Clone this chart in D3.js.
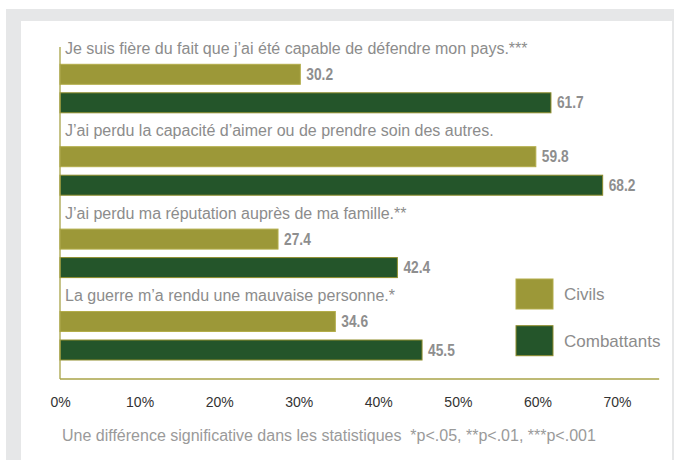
<!DOCTYPE html>
<html>
<head>
<meta charset="utf-8">
<script src="https://cdn.jsdelivr.net/npm/d3@7"></script>
<style>
  body { margin: 0; background: #fff; }
  svg { display: block; font-family: "Liberation Sans", Arial, sans-serif; }
</style>
</head>
<body>
<svg id="chart" width="674" height="460"></svg>
<script>
// data
var categories = [
  "Je suis fière du fait que j’ai été capable de défendre mon pays.***",
  "J’ai perdu la capacité d’aimer ou de prendre soin des autres.",
  "J’ai perdu ma réputation auprès de ma famille.**",
  "La guerre m’a rendu une mauvaise personne.*"
];
var civils = [30.2, 59.8, 27.4, 34.6];
var combattants = [61.7, 68.2, 42.4, 45.5];
var seriesNames = ["Civils", "Combattants"];
var tickValues = [0, 10, 20, 30, 40, 50, 60, 70];
var footnote = "Une différence significative dans les statistiques  *p<.05, **p<.01, ***p<.001";

var colors = {civ: "#9c9838", com: "#24552a", axis: "#a8a347", label: "#8c8c8c"};

var svg = d3.select("#chart");

// grey frame + white panel
svg.append("rect").attr("x", 6).attr("y", 9).attr("width", 668).attr("height", 451).attr("fill", "#e6e7e8");
svg.append("rect").attr("x", 21).attr("y", 21).attr("width", 651).attr("height", 439).attr("fill", "#fff");

var x = d3.scaleLinear().domain([0, 70]).range([60, 617]);
var y = d3.scaleBand().domain(categories).range([47, 376.6]);

var rows = categories.map(function(c, i) {
  return {cat: c, civ: civils[i], com: combattants[i]};
});

var g = svg.append("g");

var row = g.selectAll(".row").data(rows).enter().append("g")
  .attr("class", "row")
  .attr("transform", function(d) { return "translate(0," + y(d.cat) + ")"; });

row.append("text")
  .attr("x", x(0) + 5)
  .attr("y", 7)
  .attr("fill", colors.label)
  .style("font-size", "16px")
  .text(function(d) { return d.cat; });

var barH = 20;
var bars = [
  {key: "civ", off: 17.3, fill: colors.civ, stroke: "#b3ad4a"},
  {key: "com", off: 45.8, fill: colors.com, stroke: "#8f8d2c"}
];

bars.forEach(function(b) {
  row.append("rect")
    .attr("x", x(0))
    .attr("y", b.off)
    .attr("width", function(d) { return x(d[b.key]) - x(0); })
    .attr("height", barH)
    .attr("fill", b.fill)
    .attr("stroke", b.stroke)
    .attr("stroke-width", 1);
  // condensed bold value labels
  row.append("text")
    .attr("transform", function(d) {
      return "translate(" + (x(d[b.key]) + 6) + "," + (b.off + barH / 2 + 5.5) + ") scale(0.86,1)";
    })
    .attr("fill", "#8e8e8e")
    .style("font-weight", "bold")
    .style("font-size", "16px")
    .text(function(d) { return d[b.key].toFixed(1); });
});

// axes lines
var axisY = 379;
g.append("line").attr("x1", x(0)).attr("x2", x(0)).attr("y1", 47).attr("y2", axisY)
  .attr("stroke", colors.axis).attr("stroke-width", 1.3);
g.append("line").attr("x1", x(0)).attr("x2", x(75.3)).attr("y1", axisY).attr("y2", axisY)
  .attr("stroke", colors.axis).attr("stroke-width", 1.3);

var xAxis = g.append("g")
  .attr("transform", "translate(0," + axisY + ")")
  .call(d3.axisBottom(x).tickValues(tickValues).tickSize(0).tickPadding(18)
    .tickFormat(function(d) { return d + "%"; }));
xAxis.select(".domain").remove();
xAxis.selectAll("text")
  .attr("fill", "#333")
  .style("font-family", "'Liberation Sans', Arial, sans-serif")
  .style("font-size", "14px");

// legend
var legend = g.selectAll(".leg").data(seriesNames).enter().append("g")
  .attr("transform", function(d, i) { return "translate(516," + (279 + i * 46.7) + ")"; });
legend.append("rect")
  .attr("width", 37).attr("height", 30)
  .attr("fill", function(d, i) { return i ? colors.com : colors.civ; })
  .attr("stroke", function(d, i) { return i ? "#8f8d2c" : "#b3ad4a"; });
legend.append("text")
  .attr("x", 48).attr("y", 21)
  .attr("fill", colors.label)
  .style("font-size", "17px")
  .text(function(d) { return d; });

// footnote
g.append("text")
  .attr("x", 62).attr("y", 441)
  .attr("fill", "#9a9a9a")
  .style("font-size", "16px")
  .style("white-space", "pre")
  .text(footnote);
</script>
</body>
</html>
